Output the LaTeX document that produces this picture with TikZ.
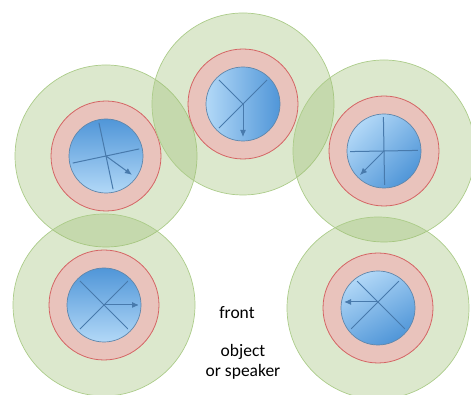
\documentclass[tikz,border=0pt]{standalone}
\usepackage{fontspec}
\usetikzlibrary{arrows.meta}
\setmainfont{Carlito}
\definecolor{zonefill}{RGB}{155,189,112}
\definecolor{zoneedge}{RGB}{172,204,138}
\definecolor{ringfill}{RGB}{236,192,186}
\definecolor{ringedge}{RGB}{212,100,100}
\definecolor{ballhi}{RGB}{178,216,247}
\definecolor{balllo}{RGB}{80,150,216}
\definecolor{ballrim}{RGB}{95,135,172}
\definecolor{spokeblue}{RGB}{72,122,172}
\begin{document}
\begin{tikzpicture}[>={Latex[length=7pt,width=6pt]},x=1pt,y=1pt,
    zone/.style={draw=zoneedge,fill=zonefill,fill opacity=.35,line width=.7pt},
    ring/.style={draw=ringedge,fill=ringfill,fill opacity=.9,line width=.8pt},
    rim/.style={draw=ballrim,line width=.7pt},
    spoke/.style={spokeblue,line width=1pt},
    note/.style={font=\fontsize{17.5}{20}\selectfont,align=center}]
    \useasboundingbox (0,0) rectangle (471,395);
    \clip (0,0) rectangle (471,395);
    \coordinate (tl) at (106,239);
    \coordinate (tc) at (243,291);
    \coordinate (tr) at (384,244);
    \coordinate (bl) at (104,90);
    \coordinate (br) at (378,87);
    \foreach \c/\a in {tl/180,tc/90,tr/45,bl/180,br/30}{
        \draw[zone] (\c) circle[radius=91pt];
        \draw[ring] (\c) circle[radius=55pt];
        \shade[top color=ballhi,bottom color=balllo,shading angle=\a] (\c) circle[radius=37pt];
        \draw[rim] (\c) circle[radius=37pt];
    }
    \begin{scope}
        \clip (tl) circle[radius=34pt];
        \draw[spoke] (tl)--++(12:40) (tl)--++(102:40) (tl)--++(192:40) (tl)--++(282:40);
        \draw[spoke,->] (tl)--++(-36:32);
    \end{scope}
    \begin{scope}
        \clip (tc) circle[radius=34pt];
        \draw[spoke] (tc)--++(45:40) (tc)--++(135:40) (tc)--++(225:40);
        \draw[spoke,->] (tc)--++(270:33);
    \end{scope}
    \begin{scope}
        \clip (tr) circle[radius=34pt];
        \draw[spoke] (tr)--++(1:40) (tr)--++(91:40) (tr)--++(181:40) (tr)--++(271:40);
        \draw[spoke,->] (tr)--++(225:34);
    \end{scope}
    \begin{scope}
        \clip (bl) circle[radius=34pt];
        \draw[spoke] (bl)--++(45:40) (bl)--++(135:40) (bl)--++(225:40) (bl)--++(315:40);
        \draw[spoke,->] (bl)--++(0:35);
    \end{scope}
    \begin{scope}
        \clip (br) circle[radius=34pt];
        \coordinate (brhub) at (378,93);
        \draw[spoke] (brhub)--++(45:50) (brhub)--++(135:50) (brhub)--++(225:50) (brhub)--++(315:50);
        \draw[spoke,->] (brhub)--++(180:34);
    \end{scope}
    \node[note] (front) at (237,82) {front};
    \node[note] (object) at (243,33) {object\\or speaker};
\end{tikzpicture}
\end{document}
